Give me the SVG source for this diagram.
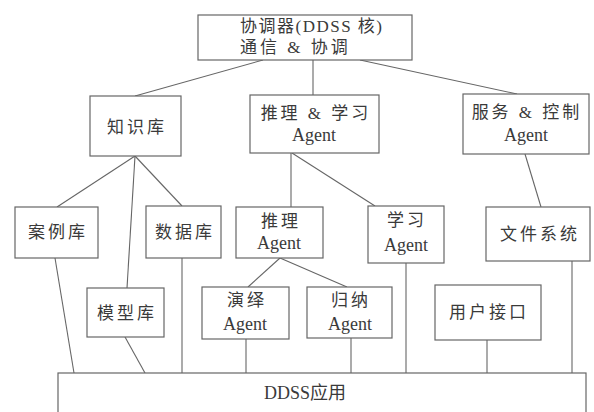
<svg xmlns="http://www.w3.org/2000/svg" width="594" height="412" viewBox="0 0 594 412">
<style>
.box{fill:#fff;stroke:#666;stroke-width:1.2}
.ln{stroke:#666;stroke-width:1.1;fill:none}
text{font-family:"Liberation Serif","Noto Sans CJK SC",serif;fill:#3a3a3a;text-anchor:middle}
.cn{font-size:17px;letter-spacing:3px}
.ag{font-size:18px}
.tl{font-size:17px;text-anchor:start}
</style>
<rect width="594" height="412" fill="#fff"/>
<g id="connectors">
<line class="ln" x1="263" y1="60" x2="135" y2="96"/>
<line class="ln" x1="313" y1="60" x2="313" y2="95"/>
<line class="ln" x1="360" y1="60" x2="517" y2="94"/>
<line class="ln" x1="135" y1="156" x2="57" y2="207"/>
<line class="ln" x1="135" y1="156" x2="127" y2="288"/>
<line class="ln" x1="135" y1="156" x2="182" y2="206"/>
<line class="ln" x1="291" y1="153" x2="291" y2="207"/>
<line class="ln" x1="292" y1="153" x2="375" y2="206"/>
<line class="ln" x1="525" y1="154" x2="541" y2="207"/>
<line class="ln" x1="280" y1="258" x2="248" y2="287"/>
<line class="ln" x1="280" y1="258" x2="347" y2="287"/>
<line class="ln" x1="55" y1="258" x2="74" y2="373"/>
<line class="ln" x1="125" y1="337" x2="145" y2="373"/>
<line class="ln" x1="182" y1="258" x2="182" y2="373"/>
<line class="ln" x1="246" y1="339" x2="246" y2="373"/>
<line class="ln" x1="351" y1="338" x2="351" y2="373"/>
<line class="ln" x1="406" y1="263" x2="406" y2="373"/>
<line class="ln" x1="487" y1="340" x2="487" y2="373"/>
<line class="ln" x1="572" y1="261" x2="572" y2="373"/>
</g>
<g id="coordinator">
<rect class="box" x="198" y="15" width="214" height="45"/>
<text class="tl" x="240" y="32" letter-spacing="1.5">协调器(DDSS 核)</text>
<text class="tl" x="240" y="53" letter-spacing="3">通信 &amp; 协调</text>
</g>
<g id="knowledge">
<rect class="box" x="90" y="96" width="91" height="60"/>
<text class="cn" x="137" y="133">知识库</text>
</g>
<g id="reasoning-learning">
<rect class="box" x="250" y="95" width="129" height="58"/>
<text class="cn" x="316" y="119">推理 &amp; 学习</text>
<text class="ag" x="314" y="141">Agent</text>
</g>
<g id="service-control">
<rect class="box" x="463" y="94" width="126" height="60"/>
<text class="cn" x="527" y="118">服务 &amp; 控制</text>
<text class="ag" x="526" y="141">Agent</text>
</g>
<g id="case">
<rect class="box" x="15" y="207" width="83" height="51"/>
<text class="cn" x="58" y="238">案例库</text>
</g>
<g id="data">
<rect class="box" x="146" y="206" width="75" height="52"/>
<text class="cn" x="185" y="238">数据库</text>
</g>
<g id="reasoning">
<rect class="box" x="236" y="207" width="87" height="51"/>
<text class="cn" x="281" y="227">推理</text>
<text class="ag" x="279" y="249">Agent</text>
</g>
<g id="learning">
<rect class="box" x="368" y="206" width="76" height="57"/>
<text class="cn" x="407" y="226">学习</text>
<text class="ag" x="406" y="251">Agent</text>
</g>
<g id="filesystem">
<rect class="box" x="486" y="207" width="104" height="54"/>
<text class="cn" x="540" y="240">文件系统</text>
</g>
<g id="model">
<rect class="box" x="87" y="288" width="77" height="49"/>
<text class="cn" x="127" y="319">模型库</text>
</g>
<g id="deduction">
<rect class="box" x="202" y="287" width="87" height="52"/>
<text class="cn" x="247" y="306">演绎</text>
<text class="ag" x="245" y="330">Agent</text>
</g>
<g id="induction">
<rect class="box" x="307" y="287" width="85" height="51"/>
<text class="cn" x="351" y="306">归纳</text>
<text class="ag" x="350" y="330">Agent</text>
</g>
<g id="ui">
<rect class="box" x="435" y="285" width="106" height="55"/>
<text class="cn" x="489" y="318">用户接口</text>
</g>
<g id="app">
<rect class="box" x="58" y="373" width="528" height="45"/>
<text x="305" y="399" font-size="18">DDSS应用</text>
</g>
</svg>
